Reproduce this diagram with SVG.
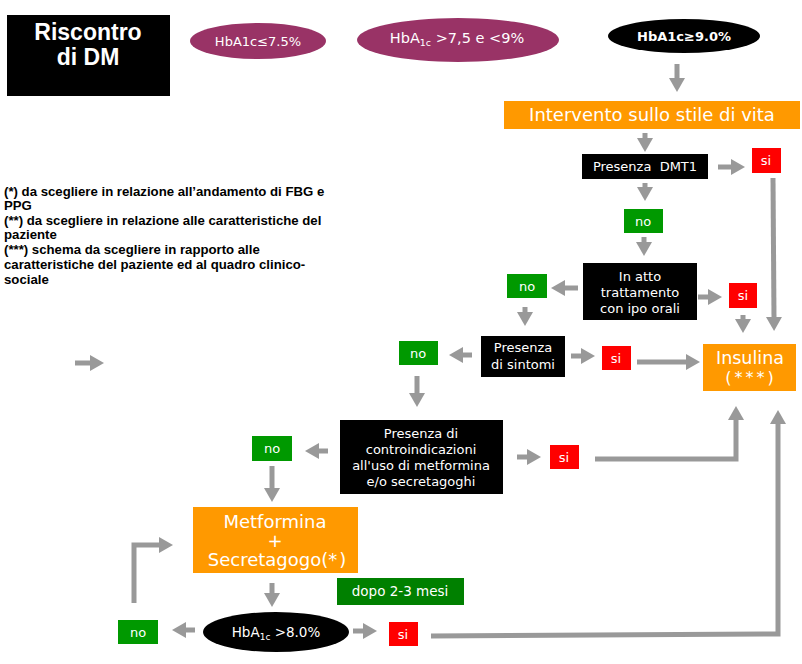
<svg xmlns="http://www.w3.org/2000/svg" width="802" height="664" viewBox="0 0 802 664">
<defs>
<marker id="ah" markerUnits="userSpaceOnUse" markerWidth="14" markerHeight="16" viewBox="0 0 14 16" refX="1" refY="8" orient="auto">
<path d="M0,0 L14,8 L0,16 z" fill="#999999"/>
</marker>
</defs>
<style>
.bk{fill:#000000}
.or{fill:#FF9900}
.gr{fill:#009900}
.dg{fill:#008000}
.rd{fill:#FF0000}
.pu{fill:#993366}
.t{font-family:"DejaVu Sans",Verdana,sans-serif;fill:#ffffff;text-anchor:middle}
.lg{font-family:"Liberation Sans",Arial,sans-serif;font-weight:bold;font-size:13.2px;fill:#000000}
.c{fill:none;stroke:#999999;stroke-width:5;marker-end:url(#ah)}
</style>
<rect width="802" height="664" fill="#ffffff"/>

<g id="riscontro">
<rect class="bk" x="7" y="15" width="163" height="81"/>
<text x="88" y="40" style="font-family:'Liberation Sans',Arial,sans-serif;font-weight:bold;font-size:23px;fill:#fff;text-anchor:middle">Riscontro</text>
<text x="88" y="65" style="font-family:'Liberation Sans',Arial,sans-serif;font-weight:bold;font-size:23px;fill:#fff;text-anchor:middle">di DM</text>
</g>

<g id="hba1c-75">
<ellipse class="pu" cx="258" cy="41" rx="68" ry="18"/>
<text class="t" x="258" y="46" font-size="13">HbA1c≤7.5%</text>
</g>

<g id="hba1c-75-9">
<ellipse class="pu" cx="458" cy="40" rx="101" ry="22"/>
<text class="t" x="457" y="43" font-size="14.5">HbA<tspan font-size="9.5" dy="3">1c</tspan><tspan dy="-3"> &gt;7,5 e &lt;9%</tspan></text>
</g>

<g id="hba1c-9">
<ellipse class="bk" cx="684" cy="36" rx="76" ry="17"/>
<text class="t" x="684" y="41" font-size="13" font-weight="bold">HbA1c≥9.0%</text>
</g>

<g id="stile-vita">
<rect class="or" x="504" y="101" width="296" height="28"/>
<text class="t" x="652" y="121" font-size="18">Intervento sullo stile di vita</text>
</g>

<g id="dmt1">
<rect class="bk" x="582" y="154" width="126" height="25"/>
<text class="t" x="645" y="171" font-size="13" xml:space="preserve">Presenza  DMT1</text>
</g>

<g id="si-dmt1">
<rect class="rd" x="752" y="148" width="29" height="25"/>
<text class="t" x="766" y="165" font-size="13">si</text>
</g>

<g id="no-dmt1">
<rect class="gr" x="624" y="209" width="39" height="24"/>
<text class="t" x="643" y="226" font-size="13">no</text>
</g>

<g id="ipo-orali">
<rect class="bk" x="583" y="263" width="114" height="57"/>
<text class="t" x="640" y="281" font-size="13">In atto</text>
<text class="t" x="640" y="297" font-size="13">trattamento</text>
<text class="t" x="640" y="313" font-size="13">con ipo orali</text>
</g>

<g id="no-ipo">
<rect class="gr" x="507" y="274" width="40" height="24"/>
<text class="t" x="527" y="291" font-size="13">no</text>
</g>

<g id="si-ipo">
<rect class="rd" x="729" y="283" width="28" height="25"/>
<text class="t" x="743" y="300" font-size="13">si</text>
</g>

<g id="sintomi">
<rect class="bk" x="481" y="336" width="84" height="41"/>
<text class="t" x="523" y="352" font-size="13">Presenza</text>
<text class="t" x="523" y="369" font-size="13">di sintomi</text>
</g>

<g id="no-sintomi">
<rect class="gr" x="399" y="341" width="39" height="24"/>
<text class="t" x="418" y="358" font-size="13">no</text>
</g>

<g id="si-sintomi">
<rect class="rd" x="602" y="346" width="29" height="24"/>
<text class="t" x="616" y="363" font-size="13">si</text>
</g>

<g id="insulina">
<rect class="or" x="703" y="344" width="93" height="47"/>
<text class="t" x="750" y="364" font-size="17.5">Insulina</text>
<text class="t" x="751" y="383" font-size="16" letter-spacing="3">(***)</text>
</g>

<g id="controindicazioni">
<rect class="bk" x="340" y="420" width="163" height="74"/>
<text class="t" x="421" y="438" font-size="13">Presenza di</text>
<text class="t" x="421" y="454" font-size="13">controindicazioni</text>
<text class="t" x="421" y="470" font-size="13">all'uso di metformina</text>
<text class="t" x="421" y="486" font-size="13">e/o secretagoghi</text>
</g>

<g id="no-contro">
<rect class="gr" x="252" y="436" width="40" height="25"/>
<text class="t" x="272" y="453" font-size="13">no</text>
</g>

<g id="si-contro">
<rect class="rd" x="550" y="445" width="29" height="24"/>
<text class="t" x="564" y="462" font-size="13">si</text>
</g>

<g id="metformina">
<rect class="or" x="193" y="507" width="165" height="66"/>
<text class="t" x="275" y="528" font-size="18">Metformina</text>
<text class="t" x="275" y="547" font-size="18">+</text>
<text class="t" x="277" y="566" font-size="18">Secretagogo(<tspan letter-spacing="2">*</tspan>)</text>
</g>

<g id="dopo">
<rect class="dg" x="337" y="578" width="127" height="27"/>
<text class="t" x="400" y="596" font-size="13.5">dopo 2-3 mesi</text>
</g>

<g id="hba1c-8">
<ellipse class="bk" cx="276" cy="632" rx="73" ry="20"/>
<text class="t" x="276" y="637" font-size="13.5">HbA<tspan font-size="9" dy="3">1c</tspan><tspan dy="-3"> &gt;8.0%</tspan></text>
</g>

<g id="no-8">
<rect class="gr" x="118" y="620" width="40" height="24"/>
<text class="t" x="138" y="637" font-size="13">no</text>
</g>

<g id="si-8">
<rect class="rd" x="389" y="622" width="29" height="24"/>
<text class="t" x="403" y="639" font-size="13">si</text>
</g>

<g id="legenda">
<text class="lg" x="4" y="196">(*) da scegliere in relazione all’andamento di FBG e</text>
<text class="lg" x="4" y="210">PPG</text>
<text class="lg" x="4" y="225">(**) da scegliere in relazione alle caratteristiche del</text>
<text class="lg" x="4" y="239">paziente</text>
<text class="lg" x="4" y="254">(***) schema da scegliere  in rapporto alle</text>
<text class="lg" x="4" y="269">caratteristiche del paziente ed al quadro clinico-</text>
<text class="lg" x="4" y="284">sociale</text>
</g>

<g id="connectors">
<line class="c" x1="677" y1="64" x2="677" y2="79"/>
<line class="c" x1="645" y1="133" x2="645" y2="139"/>
<line class="c" x1="718" y1="167" x2="732" y2="167"/>
<line class="c" x1="773" y1="178" x2="774" y2="318"/>
<line class="c" x1="645" y1="183" x2="645" y2="188"/>
<line class="c" x1="644" y1="237" x2="644" y2="243"/>
<line class="c" x1="578" y1="288" x2="564" y2="288"/>
<line class="c" x1="525" y1="307" x2="525" y2="313"/>
<line class="c" x1="698" y1="297" x2="709" y2="297"/>
<line class="c" x1="743" y1="315" x2="743" y2="320"/>
<line class="c" x1="472" y1="355" x2="462" y2="355"/>
<line class="c" x1="417" y1="376" x2="417" y2="394"/>
<line class="c" x1="571" y1="356" x2="582" y2="356"/>
<line class="c" x1="637" y1="362" x2="687" y2="362"/>
<line class="c" x1="328" y1="451" x2="318" y2="451"/>
<line class="c" x1="272" y1="466" x2="272" y2="489"/>
<line class="c" x1="517" y1="457" x2="528" y2="457"/>
<polyline class="c" points="595,459 736,459 736,419"/>
<polyline class="c" points="134,603 134,545 160,545"/>
<line class="c" x1="272" y1="583" x2="272" y2="594"/>
<line class="c" x1="195" y1="630" x2="185" y2="630"/>
<line class="c" x1="353" y1="631" x2="364" y2="631"/>
<polyline class="c" points="431,636 778,634 778,423"/>
<line class="c" x1="75" y1="363" x2="91" y2="363"/>
</g>
</svg>
